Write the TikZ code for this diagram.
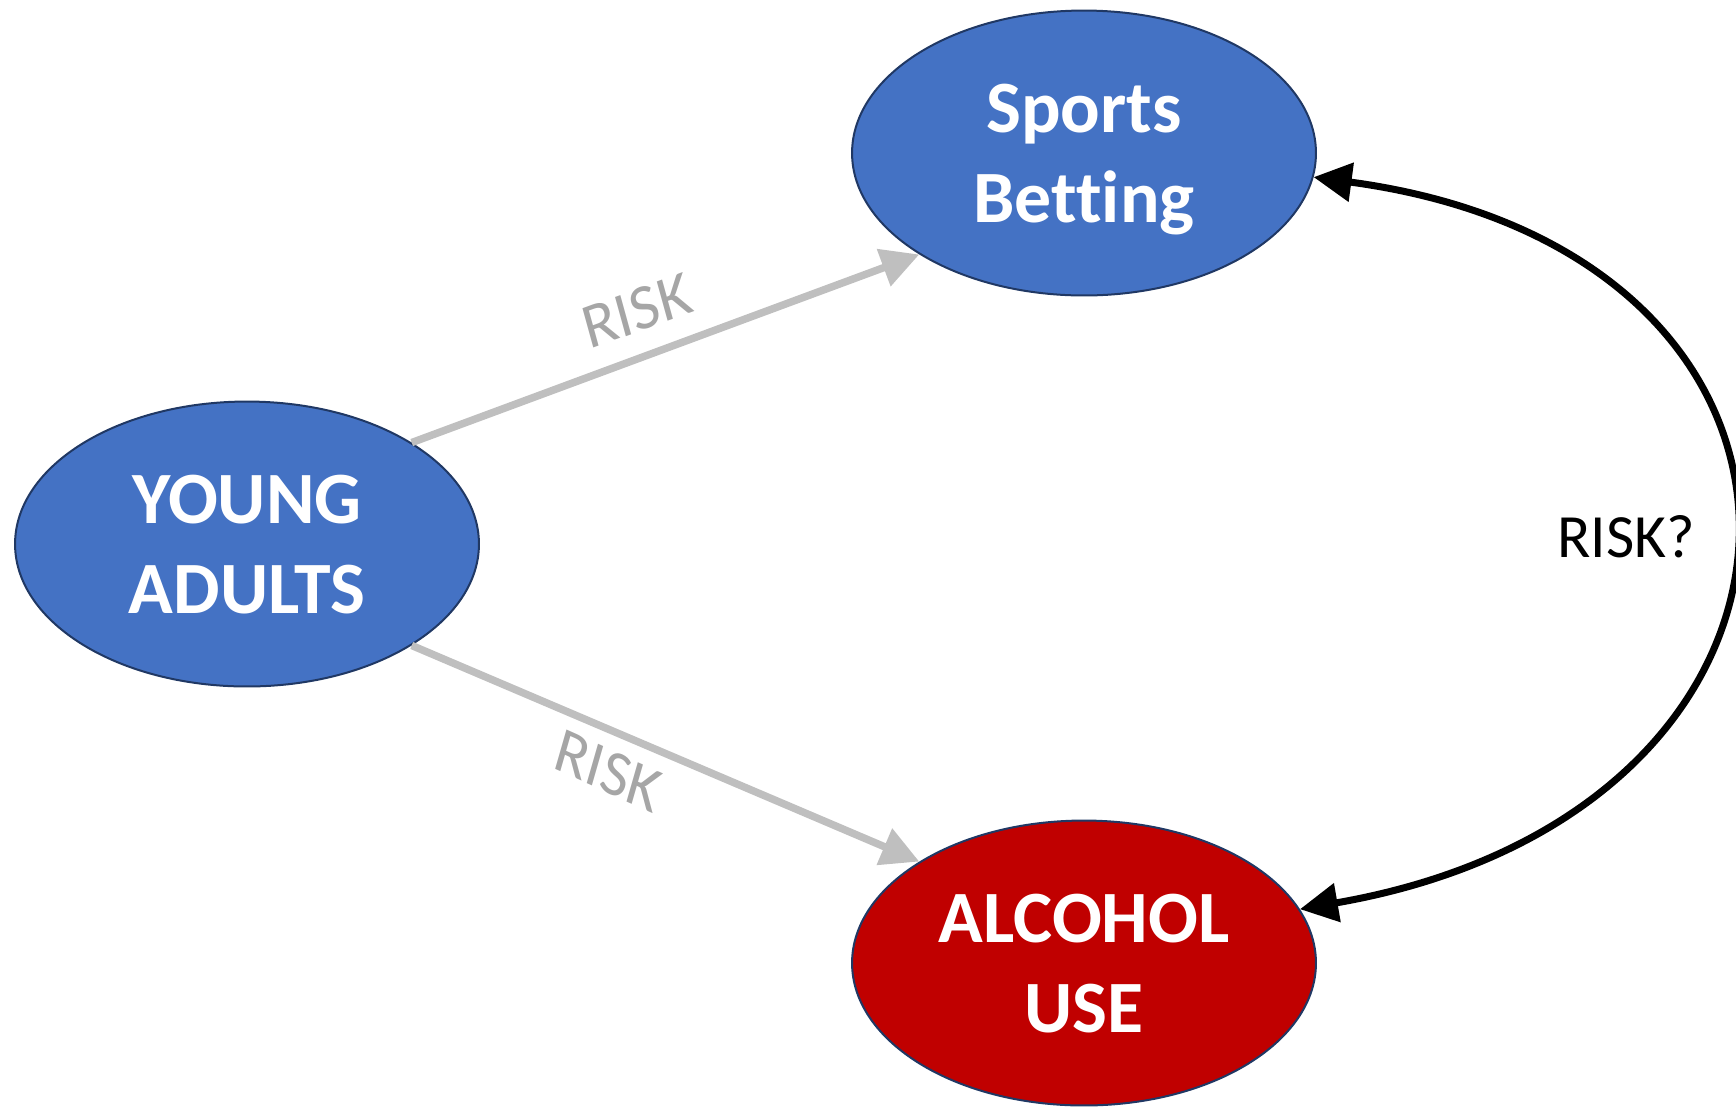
\documentclass[tikz,border=0pt]{standalone}
\usepackage{fontspec}
\setmainfont{Carlito}[Ligatures=NoCommon]
\usepackage{tikz}
\usetikzlibrary{arrows.meta,shapes.geometric}
\definecolor{nodeblue}{HTML}{4472C4}
\definecolor{alcred}{HTML}{C00000}
\definecolor{rimblue}{HTML}{203864}
\definecolor{linegray}{HTML}{BFBFBF}
\definecolor{labelgray}{HTML}{A6A6A6}

\begin{document}
\begin{tikzpicture}[x=0.02cm, y=-0.02cm,
	blob/.style={ellipse, draw=rimblue, line width=0.04cm, inner sep=0pt, minimum width=9.28cm, minimum height=5.7cm, text=white, text depth=0pt, align=center, font=\bfseries\fontsize{42}{51}\selectfont},
	riskline/.style={draw=linegray, line width=0.15cm, -{Triangle[length=0.76cm, width=0.76cm]}},
	risktext/.style={text=labelgray, inner sep=0pt, font=\fontsize{36}{40}\selectfont}]
	\useasboundingbox (0,0) rectangle (1736,1107);
	\node[blob, fill=nodeblue] (ya) at (247,544) {YOUNG\\ADULTS};
	\node[blob, fill=nodeblue] (sb) at (1084,153) {Sports\\Betting};
	\node[blob, fill=alcred] (alc) at (1084,963) {ALCOHOL\\USE};
	\draw[riskline] (ya.north east) -- (sb.south west);
	\draw[riskline] (ya.south east) -- (alc.north west);
	\node[risktext, rotate=20, xslant=0.08] (riskup) at (637,311) {RISK};
	\node[risktext, rotate=-24, xslant=-0.14] (risklow) at (608,771) {RISK};
	\draw[line width=0.14cm, {Triangle[length=0.76cm, width=0.76cm]}-{Triangle[length=0.76cm, width=0.76cm]}] (alc.14) .. controls (1865,811) and (1878,253) .. (sb.-6);
	\node[inner sep=0pt, font=\fontsize{35}{40}\selectfont] (riskq) at (1626,537) {RISK?};
\end{tikzpicture}
\end{document}
